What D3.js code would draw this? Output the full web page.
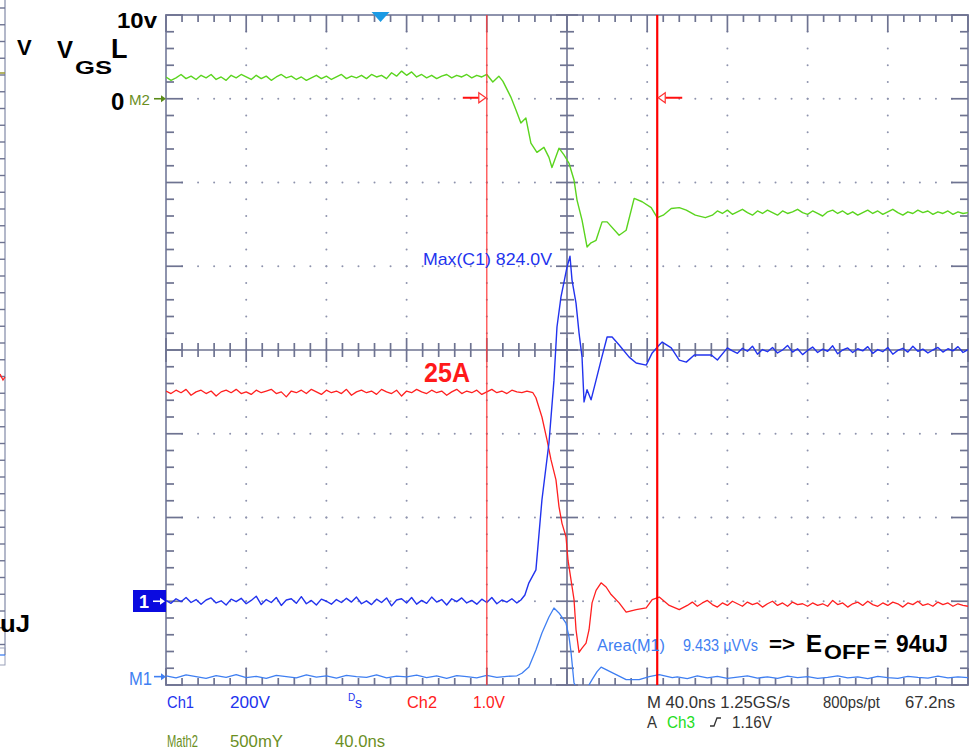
<!DOCTYPE html>
<html>
<head>
<meta charset="utf-8">
<script src="https://cdn.jsdelivr.net/npm/d3@7"></script>
<style>
body { margin: 0; background: #fff; }
svg { display: block; font-family: "Liberation Sans", Arial, sans-serif; }
</style>
</head>
<body>
<div id="scope"></div>
<script>
// time in ns (0 = screen centre, 40 ns/div)
// Math2 : VGS in volts (10 V/div, ref at +3 div)
var vgs = [
  [-200,2.6],[-197.5,2.2],[-195,2.5],[-192.5,2.9],[-190,2.4],[-187.5,2.7],[-185,2.3],[-182.5,2.8],[-180,2.5],[-177.5,2.9],
  [-175,2.3],[-172.5,2.6],[-170,2.2],[-167.5,2.8],[-165,2.5],[-162.5,2.9],[-160,2.6],[-157.5,2.3],[-155,2.8],[-152.5,2.4],
  [-150,2.7],[-147.5,2.2],[-145,2.6],[-142.5,2.9],[-140,2.5],[-137.5,2.7],[-135,2.3],[-132.5,2.6],[-130,2.2],[-127.5,2.5],
  [-125,2.8],[-122.5,2.4],[-120,2.7],[-117.5,2.3],[-115,2.6],[-112.5,2.9],[-110,2.4],[-107.5,2.7],[-105,2.5],[-102.5,2.8],
  [-100,2.4],[-97.5,2.9],[-95,2.6],[-92.5,2.8],[-90,2.4],[-87.5,3.1],[-85,2.7],[-82.5,3.3],[-80,2.8],[-77.5,3.2],
  [-75,2.6],[-72.5,2.9],[-70,2.5],[-67.5,2.8],[-65,2.4],[-62.5,2.7],[-60,2.9],[-57.5,2.5],[-55,2.8],[-52.5,2.6],
  [-50,2.9],[-47.5,2.5],[-45,2.8],[-42.5,2.6],[-40,2.9],
  [-37,2.0],[-34,2.7],[-32,2.1],[-28,0.2],[-25.5,-1.3],[-23,-2.9],[-20.5,-2.3],
  [-18,-5.3],[-15,-6.4],[-11.5,-5.8],[-9,-7.0],[-7.5,-8.2],[-4,-5.9],[-1.5,-6.7],[1,-7.7],[3.5,-9.7],[5,-12.1],
  [7.5,-14.5],[10,-17.7],[12,-17.2],[14.5,-16.9],[17.5,-14.7],[20,-14.7],[26,-16.3],[29.5,-15.7],[33.5,-11.9],[37.5,-12.3],
  [42,-13.0],[45,-14.2],[48,-13.9],[52,-13.1],[56,-13.0],[59.5,-13.3],[64,-13.9],[69,-14.2],
  [72.5,-13.9],[75,-13.4],[77.5,-13.7],[80,-13.3],[82.5,-13.8],[85,-13.5],[87.5,-13.2],[90,-13.6],[92.5,-13.9],[95,-13.4],
  [97.5,-13.7],[100,-13.3],[102.5,-13.6],[105,-13.9],[107.5,-13.4],[110,-13.7],[112.5,-13.5],[115,-13.2],[117.5,-13.6],[120,-13.8],
  [122.5,-13.4],[125,-13.7],[127.5,-14.0],[130,-13.5],[132.5,-13.3],[135,-13.7],[137.5,-13.4],[140,-13.8],[142.5,-13.5],[145,-13.9],
  [147.5,-13.6],[150,-13.3],[152.5,-13.7],[155,-13.4],[157.5,-13.8],[160,-13.5],[162.5,-13.2],[165,-13.6],[167.5,-13.9],[170,-13.5],
  [172.5,-13.7],[175,-13.3],[177.5,-13.6],[180,-13.4],[182.5,-13.8],[185,-13.5],[187.5,-13.7],[190,-13.4],[192.5,-13.8],[195,-13.5],
  [197.5,-13.7],[200,-13.6]
];

// Ch1 : VDS in volts (200 V/div, ground at -3 div)
var vds = [
  [-200,2],[-197.5,-5],[-195,6],[-192.5,-1],[-190,9],[-187.5,-3],[-185,4],[-182.5,-7],[-180,3],[-177.5,8],
  [-175,-4],[-172.5,1],[-170,-9],[-167.5,5],[-165,-1],[-162.5,7],[-160,-6],[-157.5,2],[-155,12],[-152.5,-8],
  [-150,4],[-147.5,-3],[-145,9],[-142.5,-10],[-140,3],[-137.5,6],[-135,-5],[-132.5,11],[-130,-6],[-127.5,2],
  [-125,-9],[-122.5,5],[-120,0],[-117.5,-7],[-115,4],[-112.5,-3],[-110,7],[-107.5,-2],[-105,10],[-102.5,-6],
  [-100,1],[-97.5,-8],[-95,5],[-92.5,-3],[-90,8],[-87.5,-11],[-85,3],[-82.5,6],[-80,-4],[-77.5,9],
  [-75,-7],[-72.5,2],[-70,-5],[-67.5,10],[-65,-2],[-62.5,4],[-60,-9],[-57.5,6],[-55,-1],[-52.5,8],
  [-50,-4],[-47.5,2],[-45,-7],[-42.5,5],[-40,-3],[-37.5,9],[-35,-6],[-32.5,3],[-30,-2],[-27.5,6],
  [-25,-4],
  [-23,3],[-21,15],[-19,44],[-15.5,75],
  [-12.5,242],[-9,378],[-6.5,528],[-5,655],[-3,727],[-1.5,762],[0,798],[1.5,824],[2.5,767],[4.5,712],
  [6,641],[7.5,583],[8.5,476],[10,505],[12,481],[14.5,528],[17,576],[20,631],[22.5,631],[26,612],
  [31,583],[34.5,569],[39.5,564],[42.5,593],[46,612],[47.5,619],[52,605],[56,576],[59.5,571],[63.5,588],
  [72,588],[75,576],[80,605],
  [82.5,598],[85,592],[87.5,604],[90,597],[92.5,609],[95,590],[97.5,601],[100,596],[102.5,606],[105,593],
  [107.5,600],[110,611],[112.5,595],[115,603],[117.5,589],[120,599],[122.5,607],[125,594],[127.5,602],[130,597],
  [132.5,610],[135,591],[137.5,600],[140,605],[142.5,594],[145,603],[147.5,598],[150,608],[152.5,592],[155,601],
  [157.5,596],[160,606],[162.5,590],[165,599],[167.5,604],[170,595],[172.5,609],[175,597],[177.5,602],[180,593],
  [182.5,600],[185,606],[187.5,595],[190,603],[192.5,598],[195,608],[197.5,594],[200,601]
];

// Ch2 : drain current in amps (10 A/div, ground at -3 div)
var current = [
  [-200,25.1],[-197.5,24.8],[-195,25.2],[-192.5,24.9],[-190,25.3],[-187.5,24.6],[-185,25.0],[-182.5,25.2],[-180,24.8],[-177.5,25.1],
  [-175,24.5],[-172.5,25.0],[-170,25.2],[-167.5,24.9],[-165,25.3],[-162.5,24.8],[-160,25.0],[-157.5,24.7],[-155,25.2],[-152.5,24.9],
  [-150,25.1],[-147.5,25.3],[-145,24.8],[-142.5,25.0],[-140,24.4],[-137.5,25.1],[-135,24.9],[-132.5,25.2],[-130,24.8],[-127.5,25.3],
  [-125,25.0],[-122.5,24.7],[-120,25.2],[-117.5,24.9],[-115,25.1],[-112.5,24.8],[-110,25.3],[-107.5,24.6],[-105,25.0],[-102.5,25.2],
  [-100,24.9],[-97.5,25.1],[-95,24.7],[-92.5,25.3],[-90,25.0],[-87.5,24.8],[-85,25.2],[-82.5,24.5],[-80,25.1],[-77.5,24.9],
  [-75,25.3],[-72.5,25.0],[-70,24.8],[-67.5,25.2],[-65,24.9],[-62.5,25.1],[-60,24.6],[-57.5,25.0],[-55,25.3],[-52.5,24.8],
  [-50,25.1],[-47.5,24.9],[-45,25.2],[-42.5,24.7],[-40,25.0],[-37.5,25.3],[-35,24.9],[-32.5,25.1],[-30,24.8],[-27.5,25.2],
  [-25,25.0],[-22.5,24.9],[-20,25.1],
  [-17,24.9],[-15.5,24.3],[-12.5,22.0],[-10,19.3],[-8,16.9],[-5.5,14.5],[-4,11.3],[-2.5,9.3],[-0.5,7.7],[0.5,4.9],
  [3.5,0.2],[4.5,-3.4],[6,-6.1],[7.5,-5.6],[9.5,-5.0],[11,-3.4],[12.5,-0.2],[14.5,1.3],[17,2.2],[19.5,1.7],
  [22,0.8],[26,-0.2],[29.5,-1.3],[34.5,-1.0],[39.5,-0.8],[42.5,0.2],[46,0.5],[51,-0.5],[56,-1.0],
  [60,-0.5],[62.5,-0.1],[65,-0.6],[67.5,-0.2],[70,0.1],[72.5,-0.4],[75,-0.7],[77.5,-0.2],[80,-0.5],[82.5,0.0],
  [85,-0.3],[87.5,-0.6],[90,-0.1],[92.5,-0.4],[95,-0.2],[97.5,-0.7],[100,-0.3],[102.5,0.0],[105,-0.5],[107.5,-0.2],
  [110,-0.6],[112.5,-0.1],[115,-0.4],[117.5,-0.3],[120,-0.6],[122.5,-0.2],[125,-0.5],[127.5,-0.3],[130,-0.6],[132.5,0.1],
  [135,-0.4],[137.5,-0.2],[140,-0.7],[142.5,-0.3],[145,-0.1],[147.5,-0.5],[150,0.0],[152.5,-0.4],[155,-0.6],[157.5,-0.2],
  [160,-0.5],[162.5,-0.1],[165,-0.3],[167.5,-0.7],[170,-0.2],[172.5,-0.4],[175,0.0],[177.5,-0.5],[180,-0.3],[182.5,-0.6],
  [185,-0.1],[187.5,-0.4],[190,-0.2],[192.5,-0.6],[195,-0.3],[197.5,-0.5],[200,-0.6]
];

// M1 : switching power VDS*ID in kW (5 kW/div, ref at -3.9 div)
var power = [
  [-200,0.05],[-195,-0.08],[-190,0.1],[-185,0.0],[-180,-0.1],[-175,0.06],[-170,-0.04],[-165,0.12],[-160,-0.06],[-155,0.02],
  [-150,-0.1],[-145,0.08],[-140,0.0],[-135,-0.07],[-130,0.1],[-125,-0.03],[-120,0.05],[-115,-0.09],[-110,0.07],[-105,0.0],
  [-100,-0.05],[-95,0.11],[-90,-0.08],[-85,0.03],[-80,-0.02],[-75,0.09],[-70,-0.06],[-65,0.04],[-60,-0.1],[-55,0.06],
  [-50,0.0],[-45,-0.07],[-40,0.08],[-35,-0.04],[-30,0.02],[-25,0.05],
  [-22.5,0.2],[-19,0.57],[-15.5,1.59],[-12.5,2.6],[-9,3.56],[-6.5,4.1],[-4,3.8],[-0.5,3.2],[1,2.37],[2,1.47],
  [3.5,-0.38],[6,-0.9],[9.5,-0.8],[12.5,-0.18],[15,0.3],[17,0.57],[20,0.39],[24.5,0.12],[29.5,-0.18],[36,-0.18],
  [41,0.0],[46,0.12],[52.5,-0.06],
  [55,-0.02],[60,-0.12],[65,0.04],[70,-0.08],[75,0.02],[80,-0.1],[85,-0.03],[90,0.05],[95,-0.09],[100,-0.01],
  [105,-0.11],[110,0.03],[115,-0.06],[120,0.0],[125,-0.1],[130,-0.04],[135,0.04],[140,-0.08],[145,-0.02],[150,-0.12],
  [155,0.02],[160,-0.06],[165,-0.1],[170,0.01],[175,-0.05],[180,-0.09],[185,0.03],[190,-0.07],[195,-0.02],[200,-0.06]
];

var cursorT = [-40, 45];
var triggerT = -93;

var channels = [
  { name: "M1", data: power, perDiv: 5, offset: -3.9, color: "#3f7ff2", w: 1.3 },
  { name: "Ch2", data: current, perDiv: 10, offset: -3, color: "#ff2020", w: 1.3 },
  { name: "Ch1", data: vds, perDiv: 200, offset: -3, color: "#2233ee", w: 1.4 },
  { name: "Math2", data: vgs, perDiv: 10, offset: 3, color: "#5ad41e", w: 1.4 }
];

var W = 971, H = 749;
var plotL = 166, plotR = 968, plotT = 15, plotB = 685;

var x = d3.scaleLinear().domain([-200, 200]).range([plotL, plotR]);
var y = d3.scaleLinear().domain([-4, 4]).range([plotB, plotT]);

var svg = d3.select("#scope").append("svg")
  .attr("width", W)
  .attr("height", H);

svg.append("defs").append("clipPath").attr("id", "plot")
  .append("rect")
  .attr("x", plotL).attr("y", plotT)
  .attr("width", plotR - plotL).attr("height", plotB - plotT);

var gridCol = "#8e93ad", tickCol = "#6e7391";

// dotted graticule
var majX = d3.range(-200, 200.1, 40), majY = d3.range(-4, 4.01, 1);
var minX = d3.range(-200, 200.1, 8), minY = d3.range(-4, 4.01, 0.2);
var grid = svg.append("g");
majY.filter(function (d) { return d > -3.5 && d < 3.5 && Math.abs(d) > 0.1; }).forEach(function (gy) {
  grid.selectAll(null).data(minX.slice(1, -1)).enter().append("circle")
    .attr("cx", function (d) { return x(d); })
    .attr("cy", y(gy))
    .attr("r", 1)
    .attr("fill", gridCol);
});
majX.filter(function (d) { return d > -190 && d < 190 && Math.abs(d) > 1; }).forEach(function (gx) {
  grid.selectAll(null).data(minY.slice(1, -1)).enter().append("circle")
    .attr("cx", x(gx))
    .attr("cy", function (d) { return y(d); })
    .attr("r", 1)
    .attr("fill", gridCol);
});

// frame
grid.append("rect")
  .attr("x", plotL).attr("y", plotT)
  .attr("width", plotR - plotL).attr("height", plotB - plotT)
  .attr("fill", "none").attr("stroke", gridCol).attr("stroke-width", 2);

// centre cross
grid.append("line").attr("x1", x(0)).attr("x2", x(0)).attr("y1", plotT).attr("y2", plotB)
  .attr("stroke", tickCol).attr("stroke-width", 1.6);
grid.append("line").attr("x1", plotL).attr("x2", plotR).attr("y1", y(0)).attr("y2", y(0))
  .attr("stroke", tickCol).attr("stroke-width", 1.6);

function isMajor(v, step) { return Math.abs(v / step - Math.round(v / step)) < 1e-6; }

// ticks on frame edges and centre cross
var ticks = grid.append("g").attr("stroke", tickCol).attr("stroke-width", 1.7);
minY.forEach(function (d) {
  var maj = isMajor(d, 1), yy = y(d);
  ticks.append("line").attr("x1", plotL).attr("x2", plotL + (maj ? 17 : 8)).attr("y1", yy).attr("y2", yy);
  ticks.append("line").attr("x1", plotR).attr("x2", plotR - (maj ? 17 : 8)).attr("y1", yy).attr("y2", yy);
  ticks.append("line").attr("x1", x(0) - (maj ? 11 : 7)).attr("x2", x(0) + (maj ? 11 : 7)).attr("y1", yy).attr("y2", yy);
});
minX.forEach(function (d) {
  var maj = isMajor(d, 40), xx = x(d);
  ticks.append("line").attr("x1", xx).attr("x2", xx).attr("y1", plotT).attr("y2", plotT + (maj ? 17 : 7));
  ticks.append("line").attr("x1", xx).attr("x2", xx).attr("y1", plotB).attr("y2", plotB - (maj ? 17 : 7));
  ticks.append("line").attr("x1", xx).attr("x2", xx).attr("y1", y(0) - (maj ? 12 : 7)).attr("y2", y(0) + (maj ? 12 : 7));
});

// traces
var traces = svg.append("g").attr("clip-path", "url(#plot)");
channels.forEach(function (ch) {
  var line = d3.line()
    .x(function (d) { return x(d[0]); })
    .y(function (d) { return y(d[1] / ch.perDiv + ch.offset); });
  traces.append("path")
    .datum(ch.data)
    .attr("d", line)
    .attr("fill", "none")
    .attr("stroke", ch.color)
    .attr("stroke-width", ch.w)
    .attr("stroke-linejoin", "round");
});

// cursors
svg.append("line").attr("x1", x(cursorT[0])).attr("x2", x(cursorT[0])).attr("y1", plotT).attr("y2", plotB)
  .attr("stroke", "#ff3b3b").attr("stroke-width", 1.2);
svg.append("line").attr("x1", x(cursorT[1])).attr("x2", x(cursorT[1])).attr("y1", plotT).attr("y2", plotB)
  .attr("stroke", "#ff0000").attr("stroke-width", 2.2);
var cy = y(3) - 1;
var c0 = x(cursorT[0]), c1 = x(cursorT[1]);
svg.append("line").attr("x1", c0 - 24).attr("x2", c0 - 7).attr("y1", cy).attr("y2", cy)
  .attr("stroke", "#ff1010").attr("stroke-width", 2);
svg.append("path").attr("d", "M" + (c0 - 8) + "," + (cy - 5) + "L" + (c0 - 1) + "," + cy + "L" + (c0 - 8) + "," + (cy + 5) + "Z")
  .attr("fill", "#fff").attr("stroke", "#ff3030").attr("stroke-width", 1.2);
svg.append("line").attr("x1", c1 + 8).attr("x2", c1 + 25).attr("y1", cy).attr("y2", cy)
  .attr("stroke", "#ff1010").attr("stroke-width", 2);
svg.append("path").attr("d", "M" + (c1 + 8) + "," + (cy - 5) + "L" + (c1 + 1) + "," + cy + "L" + (c1 + 8) + "," + (cy + 5) + "Z")
  .attr("fill", "#fff").attr("stroke", "#ff3030").attr("stroke-width", 1.2);

// trigger position marker
var tx = x(triggerT);
svg.append("path").attr("d", "M" + (tx - 9) + ",12L" + (tx + 9) + ",12L" + tx + ",22Z").attr("fill", "#1b9ae4");

// left strip (edge of neighbouring screenshot)
var strip = svg.append("g");
strip.append("line").attr("x1", 5).attr("x2", 5).attr("y1", 0).attr("y2", 655).attr("stroke", "#9aa0b8").attr("stroke-width", 1.5);
strip.selectAll(null).data(d3.range(8, 650, 16.75)).enter().append("line")
  .attr("x1", 0).attr("x2", 5).attr("y1", function (d) { return d; }).attr("y2", function (d) { return d; })
  .attr("stroke", "#6e7391").attr("stroke-width", 1.4);
strip.append("line").attr("x1", 0).attr("x2", 5).attr("y1", 73).attr("y2", 73).attr("stroke", "#9a9a30").attr("stroke-width", 1.5);
strip.append("path").attr("d", "M0,374L3,380L5,377").attr("fill", "none").attr("stroke", "#ff2020").attr("stroke-width", 1.3);
strip.append("rect").attr("x", -2).attr("y", 648).attr("width", 7).attr("height", 17).attr("fill", "none").attr("stroke", "#9aa0b8");
strip.append("line").attr("x1", 0).attr("x2", 5).attr("y1", 655).attr("y2", 655).attr("stroke", "#3f7ff2").attr("stroke-width", 1.3);

function label(px, py, str, opt) {
  opt = opt || {};
  var t = svg.append("text")
    .attr("x", px).attr("y", py)
    .attr("font-size", opt.size || 16)
    .attr("font-weight", opt.bold ? "bold" : "normal")
    .attr("fill", opt.color || "#000")
    .text(str);
  if (opt.len) t.attr("textLength", opt.len).attr("lengthAdjust", "spacingAndGlyphs");
  return t;
}

function arrow(ax, ay, col) {
  svg.append("line").attr("x1", ax - 12).attr("x2", ax - 4).attr("y1", ay).attr("y2", ay).attr("stroke", col).attr("stroke-width", 1.6);
  svg.append("path").attr("d", "M" + (ax - 5) + "," + (ay - 3.5) + "L" + ax + "," + ay + "L" + (ax - 5) + "," + (ay + 3.5) + "Z").attr("fill", col);
}

// annotations
label(117, 28, "10v", { size: 22, bold: true, len: 40 });
label(17, 55, "V", { size: 22, bold: true });
label(57, 58, "V", { size: 24, bold: true });
label(75, 74, "GS", { size: 19, bold: true, len: 37 });
label(111, 58, "L", { size: 27, bold: true });
label(111, 110, "0", { size: 24, bold: true });
label(129, 105, "M2", { size: 15, color: "#6b8f1f", len: 21 });
arrow(plotL, y(3), "#5a8a18");
label(0, 632, "uJ", { size: 23, bold: true, len: 30 });

svg.append("rect").attr("x", 133).attr("y", 590).attr("width", plotL - 133).attr("height", 22).attr("fill", "#0b0be0");
label(139, 608, "1", { size: 18, bold: true, color: "#fff" });
arrow(plotL - 1, y(-3), "#fff");
label(129, 685, "M1", { size: 19, color: "#3f7ff2", len: 23 });
arrow(plotL, y(-3.9), "#3f7ff2");

label(423, 265, "Max(C1)   824.0V", { size: 17, color: "#2233ee", len: 129 });
label(424, 382, "25A", { size: 27, bold: true, color: "#ff1a1a", len: 46 });
label(597, 651, "Area(M1)", { size: 16, color: "#3f7ff2", len: 68 });
label(683, 651, "9.433 \u00b5VVs", { size: 16, color: "#3f7ff2", len: 75 });
label(769, 651, "=>", { size: 20, bold: true, len: 26 });
label(806, 652, "E", { size: 24, bold: true });
label(824, 659, "OFF", { size: 21, bold: true, len: 46 });
label(874, 652, "=", { size: 22, bold: true });
label(896, 652, "94uJ", { size: 24, bold: true, len: 52 });

// status bar
label(167, 708, "Ch1", { size: 17, color: "#2233ee", len: 27 });
label(230, 708, "200V", { size: 17, color: "#2233ee", len: 40 });
label(348, 701, "D", { size: 10, color: "#2233ee" });
label(355, 708, "s", { size: 14, color: "#2233ee" });
label(407, 708, "Ch2", { size: 17, color: "#ff2020", len: 30 });
label(473, 708, "1.0V", { size: 17, color: "#ff2020", len: 32 });
label(647, 708, "M 40.0ns 1.25GS/s", { size: 17, color: "#333", len: 143 });
label(823, 708, "800ps/pt", { size: 17, color: "#333", len: 57 });
label(905, 708, "67.2ns", { size: 17, color: "#333", len: 50 });
label(647, 728, "A", { size: 17, color: "#333", len: 10 });
label(667, 728, "Ch3", { size: 17, color: "#22dd22", len: 28 });
svg.append("path").attr("d", "M710,726L714,726L717,718L721,718").attr("fill", "none").attr("stroke", "#333").attr("stroke-width", 1.3);
label(732, 728, "1.16V", { size: 17, color: "#333", len: 40 });
label(167, 747, "Math2", { size: 16, color: "#6b8f1f", len: 31 });
label(230, 747, "500mY", { size: 16, color: "#6b8f1f", len: 53 });
label(335, 747, "40.0ns", { size: 16, color: "#6b8f1f", len: 50 });
</script>
</body>
</html>
